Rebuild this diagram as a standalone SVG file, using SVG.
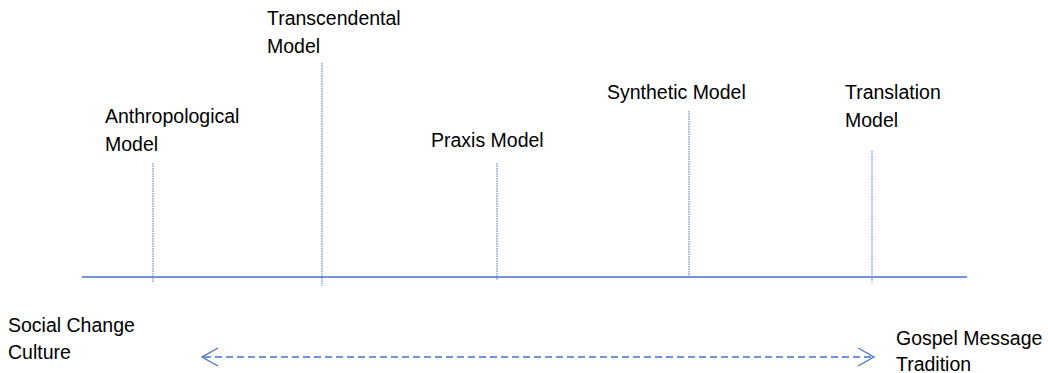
<svg xmlns="http://www.w3.org/2000/svg" width="1048" height="373" viewBox="0 0 1048 373">
<defs>
<style>
text{font-family:"Liberation Sans",Arial,sans-serif;font-size:19.5px;fill:#000}
.tick{stroke:#4472C4;stroke-width:1;stroke-dasharray:1.5 1}
.axis{stroke:#4472C4;stroke-width:1.5;fill:none}
.arr{stroke:#4472C4;stroke-width:1.3;fill:none;stroke-dasharray:7 4}
.head{stroke:#4472C4;stroke-width:1.3;fill:none}
</style>
</defs>
<rect width="1048" height="373" fill="#fff"/>
<g id="axis"><line class="axis" x1="82" y1="277" x2="967" y2="277"/></g>
<g id="anthropological">
<line class="tick" x1="153" y1="163" x2="153" y2="283"/>
<text x="105" y="123">Anthropological</text><text x="105" y="151">Model</text>
</g>
<g id="transcendental">
<line class="tick" x1="322" y1="63" x2="322" y2="286"/>
<text x="267" y="25">Transcendental</text><text x="267" y="53">Model</text>
</g>
<g id="praxis">
<line class="tick" x1="497" y1="163" x2="497" y2="280"/>
<text x="431" y="147">Praxis Model</text>
</g>
<g id="synthetic">
<line class="tick" x1="689" y1="111" x2="689" y2="277"/>
<text x="607" y="99">Synthetic Model</text>
</g>
<g id="translation">
<line class="tick" x1="872" y1="151" x2="872" y2="282"/>
<text x="845" y="99">Translation</text><text x="845" y="127">Model</text>
</g>
<g id="culture">
<text x="8" y="332">Social Change</text><text x="8" y="359">Culture</text>
</g>
<g id="gospel">
<text x="896" y="345">Gospel Message</text><text x="896" y="371">Tradition</text>
</g>
<g id="connectors">
<line class="arr" x1="204" y1="357" x2="872" y2="357"/>
<polyline class="head" points="218,348 202,357 218,366"/>
<polyline class="head" points="858,348 874,357 858,366"/>
</g>
</svg>
